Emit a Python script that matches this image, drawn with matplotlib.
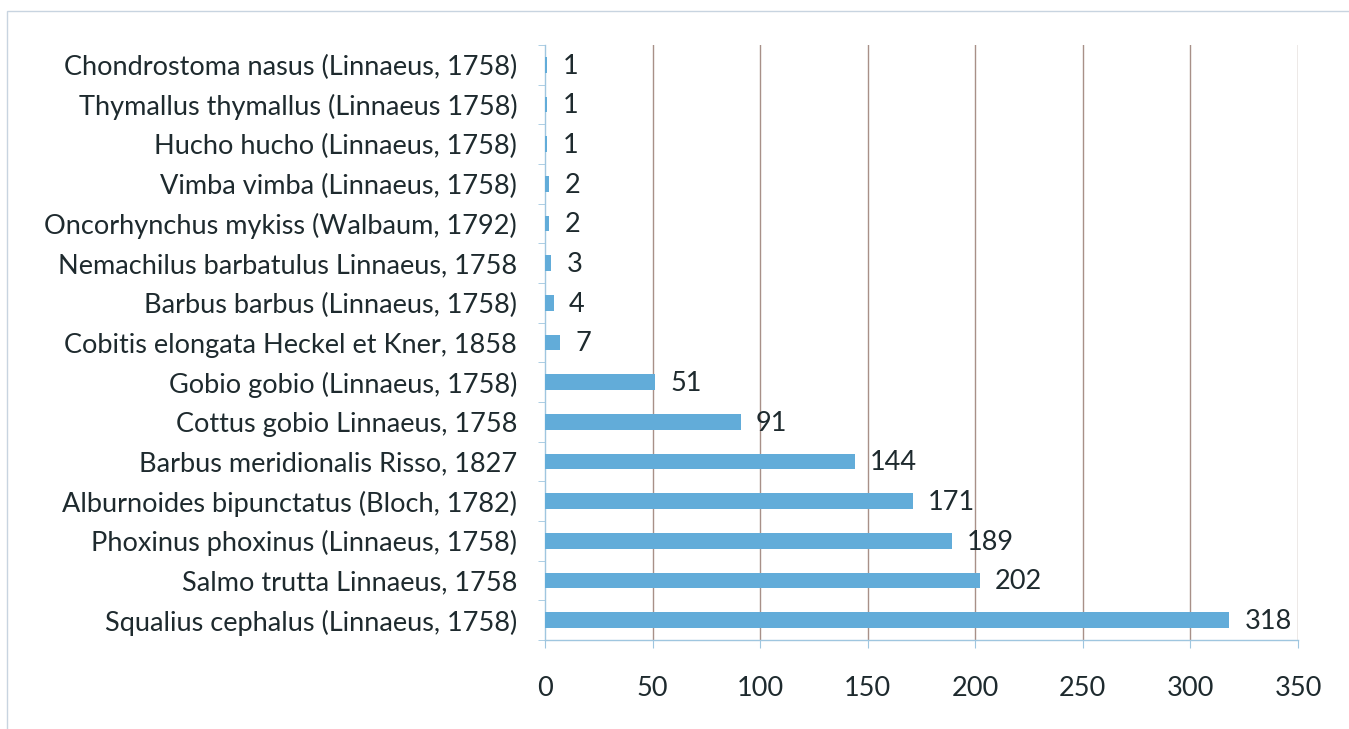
import matplotlib
matplotlib.use("Agg")
import matplotlib.pyplot as plt
import numpy as np
from matplotlib.patches import Rectangle

species = [
    "Chondrostoma nasus (Linnaeus, 1758)",
    "Thymallus thymallus (Linnaeus 1758)",
    "Hucho hucho (Linnaeus, 1758)",
    "Vimba vimba (Linnaeus, 1758)",
    "Oncorhynchus mykiss (Walbaum, 1792)",
    "Nemachilus barbatulus Linnaeus, 1758",
    "Barbus barbus (Linnaeus, 1758)",
    "Cobitis elongata Heckel et Kner, 1858",
    "Gobio gobio (Linnaeus, 1758)",
    "Cottus gobio Linnaeus, 1758",
    "Barbus meridionalis Risso, 1827",
    "Alburnoides bipunctatus (Bloch, 1782)",
    "Phoxinus phoxinus (Linnaeus, 1758)",
    "Salmo trutta Linnaeus, 1758",
    "Squalius cephalus (Linnaeus, 1758)",
]
counts = [1, 1, 1, 2, 2, 3, 4, 7, 51, 91, 144, 171, 189, 202, 318]
xticks = [0, 50, 100, 150, 200, 250, 300, 350]

plt.rcParams['font.family'] = ['Lato', 'DejaVu Sans']

fig = plt.figure(figsize=(13.49, 7.29), dpi=100)
ax = fig.add_axes([545/1349, 1 - 640/729, (1298-545)/1349, (640-45)/729])

n = len(species)
ypos = np.arange(n)[::-1]  # first item at top
bar_color = "#62acd9"
ax.barh(ypos, counts, height=0.4, color=bar_color, zorder=3)

fs = 19.5
txt_color = "#1e2a2e"
for y, v in zip(ypos, counts):
    ax.annotate(str(v), (v, y), xytext=(11, -1), textcoords="offset points",
                ha="left", va="center", fontsize=fs, color=txt_color)

ax.set_xlim(0, 350)
ax.set_ylim(-0.5, n - 0.5)
ax.set_xticks(xticks)
ax.set_xticklabels([str(t) for t in xticks], fontsize=fs, color=txt_color)
ax.set_yticks(ypos)
ax.set_yticklabels(species, fontsize=fs, color=txt_color)
ax.set_yticks(np.arange(-0.5, n, 1.0), minor=True)

grid_color = "#a89088"
for t in xticks[1:]:
    ax.axvline(t, color=grid_color, lw=1.0, zorder=1)

for s in ["top", "right"]:
    ax.spines[s].set_visible(False)
axis_color = "#9fc6df"
ax.spines["left"].set_color(axis_color)
ax.spines["bottom"].set_color(axis_color)
ax.spines["left"].set_linewidth(1.0)
ax.spines["bottom"].set_linewidth(1.0)

ax.tick_params(axis="y", which="major", length=0, pad=20)
ax.tick_params(axis="y", which="minor", length=5, color=axis_color, direction="out")
ax.tick_params(axis="x", which="major", length=6, color=axis_color, direction="out", pad=20)

fig.patches.append(Rectangle((7/1349, -0.01), 1.1, 1 - 11/729 + 0.01, transform=fig.transFigure,
                             fill=False, edgecolor="#c8d4e0", lw=1.0))

fig.savefig("out.png", dpi=100, facecolor="white")
